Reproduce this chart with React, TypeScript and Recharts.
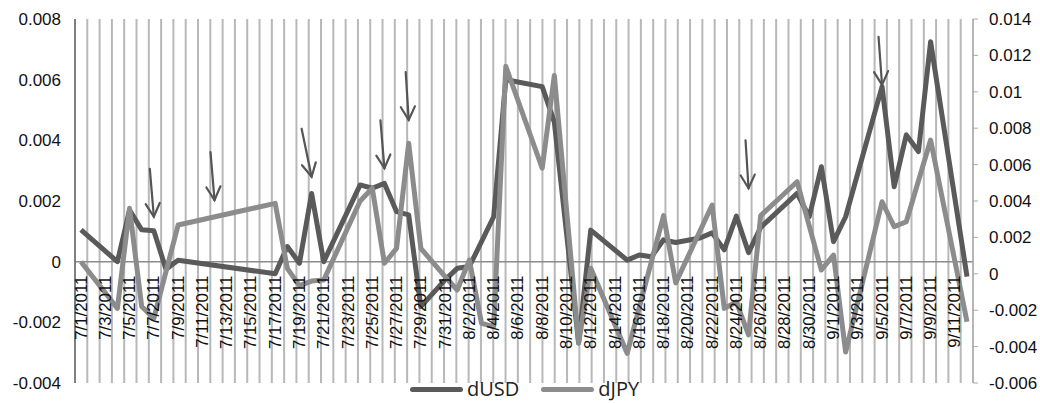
import React from 'react';
import {
  LineChart,
  Line,
  XAxis,
  YAxis,
  ReferenceLine,
  ReferenceDot,
} from 'recharts';

// daily differences, dUSD on the left axis, dJPY on the right one
const dUSD: [string, number][] = [
  ['7/1', 0.00105], ['7/4', 0.0], ['7/5', 0.0017], ['7/6', 0.00105], ['7/7', 0.00102],
  ['7/8', -0.00025], ['7/9', 0.00005], ['7/17', -0.0004], ['7/18', 0.0005], ['7/19', -0.00005],
  ['7/20', 0.00225], ['7/21', 0.0], ['7/24', 0.00253], ['7/25', 0.00242], ['7/26', 0.00258],
  ['7/27', 0.00165], ['7/28', 0.00154], ['7/29', -0.00148], ['7/31', -0.0006], ['8/1', -0.00022],
  ['8/2', -0.00016], ['8/4', 0.00148], ['8/5', 0.006], ['8/8', 0.00577], ['8/9', 0.0046],
  ['8/11', -0.00268], ['8/12', 0.00104], ['8/15', 0.00005], ['8/16', 0.00022], ['8/17', 0.00016],
  ['8/18', 0.00072], ['8/19', 0.00063], ['8/21', 0.00078], ['8/22', 0.00095], ['8/23', 0.00039],
  ['8/24', 0.0015], ['8/25', 0.0003], ['8/26', 0.00113], ['8/29', 0.00225], ['8/30', 0.00148],
  ['8/31', 0.00313], ['9/1', 0.00066], ['9/2', 0.00148], ['9/5', 0.00577], ['9/6', 0.00247],
  ['9/7', 0.00418], ['9/8', 0.00363], ['9/9', 0.00725], ['9/12', -0.00049],
];

const dJPY: [string, number][] = [
  ['7/1', 0.00066], ['7/4', -0.0019], ['7/5', 0.0036], ['7/6', -0.0018], ['7/7', -0.00245],
  ['7/9', 0.00268], ['7/17', 0.00387], ['7/18', 0.0003], ['7/19', -0.00065], ['7/20', -0.0004],
  ['7/21', -0.00034], ['7/24', 0.004], ['7/25', 0.0047], ['7/26', 0.00058], ['7/27', 0.0014],
  ['7/28', 0.00717], ['7/29', 0.0014], ['7/31', -0.00016], ['8/1', -0.00089], ['8/2', 0.00076],
  ['8/3', -0.00272], ['8/4', -0.0029], ['8/5', 0.0114], ['8/8', 0.0058], ['8/9', 0.0109],
  ['8/11', -0.0038], ['8/12', 0.0003], ['8/15', -0.00437], ['8/18', 0.0032], ['8/19', -0.0005],
  ['8/22', 0.00378], ['8/23', -0.0019], ['8/24', -0.00155], ['8/25', -0.00336], ['8/26', 0.0032],
  ['8/29', 0.00506], ['8/31', 0.00021], ['9/1', 0.00103], ['9/2', -0.0043], ['9/5', 0.00396],
  ['9/6', 0.00259], ['9/7', 0.00286], ['9/9', 0.00735], ['9/12', -0.00263],
];

// hand-drawn arrows: day and the value (left axis) where the tip sits
const arrowDays = ['7/7', '7/12', '7/20', '7/26', '7/28', '8/25', '9/5'];
const arrowTips = [0.00148, 0.00203, 0.0028, 0.00308, 0.00467, 0.00242, 0.00583];
const arrowLean = [-4, -4, -10, -4, -3, -3, -3.5];

const usdTicks = [-0.004, -0.002, 0, 0.002, 0.004, 0.006, 0.008];
const jpyTicks = [-0.006, -0.004, -0.002, 0, 0.002, 0.004, 0.006, 0.008, 0.01, 0.012, 0.014];

const DAY_COUNT = 74; // 7/1/2011 .. 9/12/2011
const GRID_COUNT = 88;

const dates: string[] = Array.from({ length: DAY_COUNT }, (_, i) => {
  const d = new Date(2011, 6, 1 + i);
  return `${d.getMonth() + 1}/${d.getDate()}/2011`;
});
const gridTicks = Array.from({ length: GRID_COUNT }, (_, i) => i);

const usdMap = new Map(dUSD.map(([d, v]) => [`${d}/2011`, v]));
const jpyMap = new Map(dJPY.map(([d, v]) => [`${d}/2011`, v]));
const rows = dates.map((date) => ({
  date,
  dUSD: usdMap.has(date) ? usdMap.get(date) : null,
  dJPY: jpyMap.has(date) ? jpyMap.get(date) : null,
}));

const W = 1040;
const H = 403;
const TOP = 19;
const X_AXIS_H = 20;
const PLOT_H = H - TOP - X_AXIS_H;
const ZERO_FROM_BOTTOM = (PLOT_H * (0 - usdTicks[0])) / (usdTicks[usdTicks.length - 1] - usdTicks[0]);

const FONT = '"Liberation Sans", Arial, sans-serif';
const DARK = '#5a5a5a';
const LIGHT = '#8c8c8c';

const fmt = (v: number) => String(Number(v.toFixed(3)));

// Excel put the date labels just under the zero line, not at the bottom
const DateTick = (props: any) => {
  const { x, y, payload } = props;
  const top = y - ZERO_FROM_BOTTOM + 14;
  return (
    <text
      transform={`translate(${x},${top}) rotate(-90)`}
      textAnchor="end"
      dominantBaseline="central"
      fontSize={16.8}
      fontFamily={FONT}
      fill="#111"
    >
      {payload.value}
    </text>
  );
};

const Arrow = (props: any) => {
  const { cx, cy, lean } = props;
  const tx = cx + lean;
  const ty = cy - 48;
  const len = Math.hypot(tx - cx, ty - cy);
  const ux = (tx - cx) / len;
  const uy = (ty - cy) / len;
  const a = (28 * Math.PI) / 180;
  const arm = 15;
  const r1x = cx + arm * (ux * Math.cos(a) - uy * Math.sin(a));
  const r1y = cy + arm * (ux * Math.sin(a) + uy * Math.cos(a));
  const r2x = cx + arm * (ux * Math.cos(-a) - uy * Math.sin(-a));
  const r2y = cy + arm * (ux * Math.sin(-a) + uy * Math.cos(-a));
  return (
    <g stroke="#555" strokeWidth={2.2} fill="none" strokeLinecap="round">
      <line x1={tx} y1={ty} x2={cx} y2={cy} />
      <polyline points={`${r1x},${r1y} ${cx},${cy} ${r2x},${r2y}`} />
    </g>
  );
};

function LegendItem({ color, label }: { color: string; label: string }) {
  return (
    <div style={{ display: 'flex', alignItems: 'center' }}>
      <div style={{ width: 53, height: 5, borderRadius: 3, background: color, marginRight: 4 }} />
      <span style={{ fontFamily: '"Open Sans", sans-serif', fontSize: 20, lineHeight: '22px', color: '#222' }}>
        {label}
      </span>
    </div>
  );
}

export default function App() {
  return (
    <div style={{ position: 'absolute', left: 0, top: 0, width: W, height: H, background: '#fff', overflow: 'hidden' }}>
      <LineChart
        width={W}
        height={H}
        data={rows}
        margin={{ top: TOP, right: 0, bottom: 0, left: 0 }}
        style={{ fontFamily: FONT }}
      >
        <XAxis xAxisId="grid" type="number" domain={[-0.4, 87.7]} ticks={gridTicks} hide allowDataOverflow />
        <XAxis
          xAxisId="date"
          dataKey="date"
          height={X_AXIS_H}
          interval={1}
          tickLine={false}
          axisLine={false}
          tickSize={0}
          tickMargin={0}
          padding={{ left: 6, right: 6 }}
          tick={<DateTick />}
        />
        <YAxis
          yAxisId="usd"
          domain={[usdTicks[0], usdTicks[usdTicks.length - 1]]}
          ticks={usdTicks}
          width={75}
          tickLine={false}
          tickMargin={8}
          axisLine={{ stroke: '#6e6e6e', strokeWidth: 1.5 }}
          tick={{ fontSize: 17, fill: '#111', fontFamily: FONT }}
          tickFormatter={fmt}
        />
        <YAxis
          yAxisId="jpy"
          orientation="right"
          domain={[jpyTicks[0], jpyTicks[jpyTicks.length - 1]]}
          ticks={jpyTicks}
          width={67}
          tickSize={5}
          tickMargin={11}
          tickLine={{ stroke: '#a8a8a8' }}
          axisLine={{ stroke: '#b4b4b4' }}
          tick={{ fontSize: 17, fill: '#111', fontFamily: FONT }}
          tickFormatter={fmt}
        />
        {gridTicks.map((t) => (
          <ReferenceLine key={`g${t}`} xAxisId="grid" yAxisId="usd" x={t} stroke="#b8b8b8" strokeWidth={2} />
        ))}
        <ReferenceLine xAxisId="date" yAxisId="usd" y={0} stroke="#8c8c8c" strokeWidth={1.5} />
        <Line
          xAxisId="date"
          yAxisId="usd"
          dataKey="dUSD"
          stroke={DARK}
          strokeWidth={5}
          dot={false}
          connectNulls
          strokeLinejoin="round"
          isAnimationActive={false}
        />
        <Line
          xAxisId="date"
          yAxisId="jpy"
          dataKey="dJPY"
          stroke={LIGHT}
          strokeWidth={5}
          dot={false}
          connectNulls
          strokeLinejoin="round"
          isAnimationActive={false}
        />
        {arrowDays.map((d, i) => (
          <ReferenceDot
            key={d}
            xAxisId="date"
            yAxisId="usd"
            x={`${d}/2011`}
            y={arrowTips[i]}
            ifOverflow="visible"
            shape={(p: any) => <Arrow cx={p.cx} cy={p.cy} lean={arrowLean[i]} />}
          />
        ))}
      </LineChart>
      <div
        style={{
          position: 'absolute',
          left: 410,
          top: 378,
          height: 22,
          display: 'flex',
          alignItems: 'center',
          gap: 22,
        }}
      >
        <LegendItem color={DARK} label="dUSD" />
        <LegendItem color={LIGHT} label="dJPY" />
      </div>
    </div>
  );
}
